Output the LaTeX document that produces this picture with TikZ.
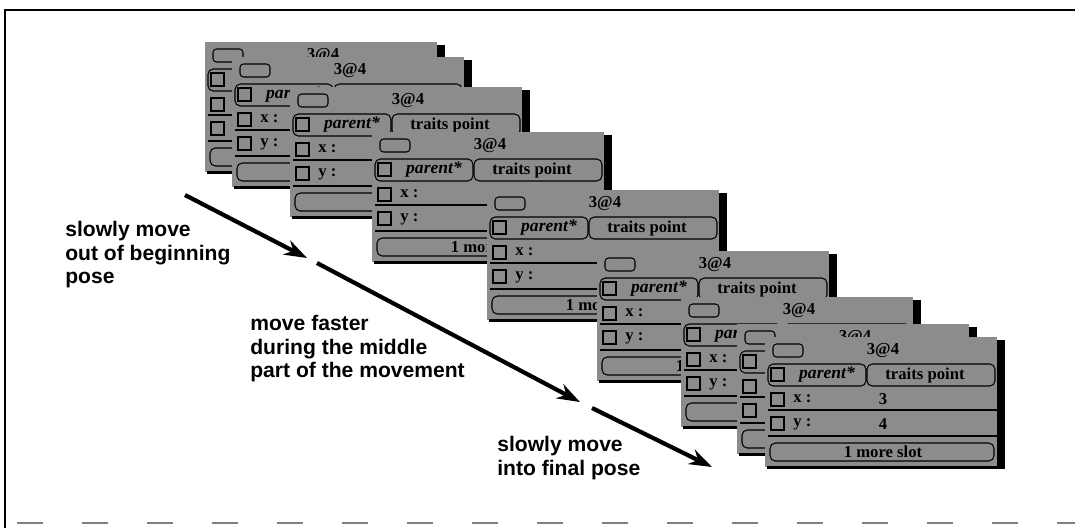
\documentclass[tikz,border=0pt]{standalone}
\usepackage{fontspec}
\setmainfont{Liberation Serif}
\setsansfont{Liberation Sans}
\usetikzlibrary{arrows.meta}

\tikzset{
  winbody/.style={fill=black!45},
  winline/.style={draw=black,line width=0.6pt},
  wintext/.style={font=\fontsize{9.5}{10}\selectfont\bfseries,inner sep=0pt},
  cue/.style={font=\sffamily\bfseries\fontsize{12}{13.3}\selectfont,align=left,anchor=north west,inner sep=0pt},
  motion/.style={line width=2.4pt,-{Stealth[length=13pt,width=9pt]}},
}

% one slot window, top left corner at (#2,#3);
% #4 = how much of it is left uncovered (1 title .. 5 values)
\newcommand{\slotwin}[4]{%
  \begin{scope}[shift={(#2,#3)}]
    \fill[winbody] (0,0) rectangle (232,130);
    \fill (232,3) rectangle (240,132);
    \fill (2,129) rectangle (240,132);
    \draw[winline,rounded corners=2pt] (8,7) rectangle (38,20);
    \node[wintext] (#1-id) at (118,14) {3@4};
    \draw[winline,rounded corners=3pt] (3,27) rectangle (101,49);
    \draw[winline,rounded corners=3pt] (102,27) rectangle (230,49);
    \draw[winline] (6,31) rectangle (19,44);
    \draw[winline] (6,56) rectangle (19,69);
    \draw[winline] (3,73) -- (232,73);
    \draw[winline] (6,80) rectangle (19,93);
    \draw[winline] (3,99) -- (232,99);
    \draw[winline,rounded corners=3pt] (5,106) rectangle (229,124);
    \ifnum#4>1
      \node[wintext,font=\fontsize{10}{10}\selectfont\bfseries\itshape] (#1-par) at (62,38) {parent*};
      \node[wintext,anchor=west] (#1-x) at (28,62) {x :};
      \node[wintext,anchor=west] (#1-y) at (28,87) {y :};
    \fi
    \ifnum#4>2
      \node[wintext] (#1-tr) at (160,38) {traits point};
    \fi
    \ifnum#4>3
      \node[wintext] (#1-more) at (118,115) {1 more slot};
    \fi
    \ifnum#4>4
      \node[wintext] (#1-xv) at (118,62) {3};
      \node[wintext] (#1-yv) at (118,87) {4};
    \fi
  \end{scope}}

\begin{document}
\begin{tikzpicture}[x=0.02cm,y=-0.02cm]
  \useasboundingbox (0,0) rectangle (1075,528);
  % frame
  \draw[line width=1.5pt] (5,528) -- (5,10) -- (1075,10);
  \draw[gray,line width=1.2pt,dash pattern=on 15pt off 22pt] (17,523) -- (1075,523);

  % the point moving, back to front
  \slotwin{w1}{205}{42}{1}
  \slotwin{w2}{232}{57}{2}
  \slotwin{w3}{290}{87}{3}
  \slotwin{w4}{372}{132}{4}
  \slotwin{w5}{487}{190}{4}
  \slotwin{w6}{597}{251}{4}
  \slotwin{w7}{681}{297}{2}
  \slotwin{w8}{737}{324}{1}
  \slotwin{w9}{765}{337}{5}

  % path of the motion
  \coordinate (s1) at (185,195);
  \coordinate (e1) at (307,258);
  \coordinate (s2) at (317,263);
  \coordinate (e2) at (580,402);
  \coordinate (s3) at (592,408);
  \coordinate (e3) at (712,467);
  \draw[motion] (s1) -- (e1);
  \draw[motion] (s2) -- (e2);
  \draw[motion] (s3) -- (e3);

  \node[cue] (slowout) at (65,221) {slowly move\\out of beginning\\pose};
  \node[cue] (faster) at (250,315) {move faster\\during the middle\\part of the movement};
  \node[cue] (slowin) at (497,436) {slowly move\\into final pose};
\end{tikzpicture}
\end{document}
